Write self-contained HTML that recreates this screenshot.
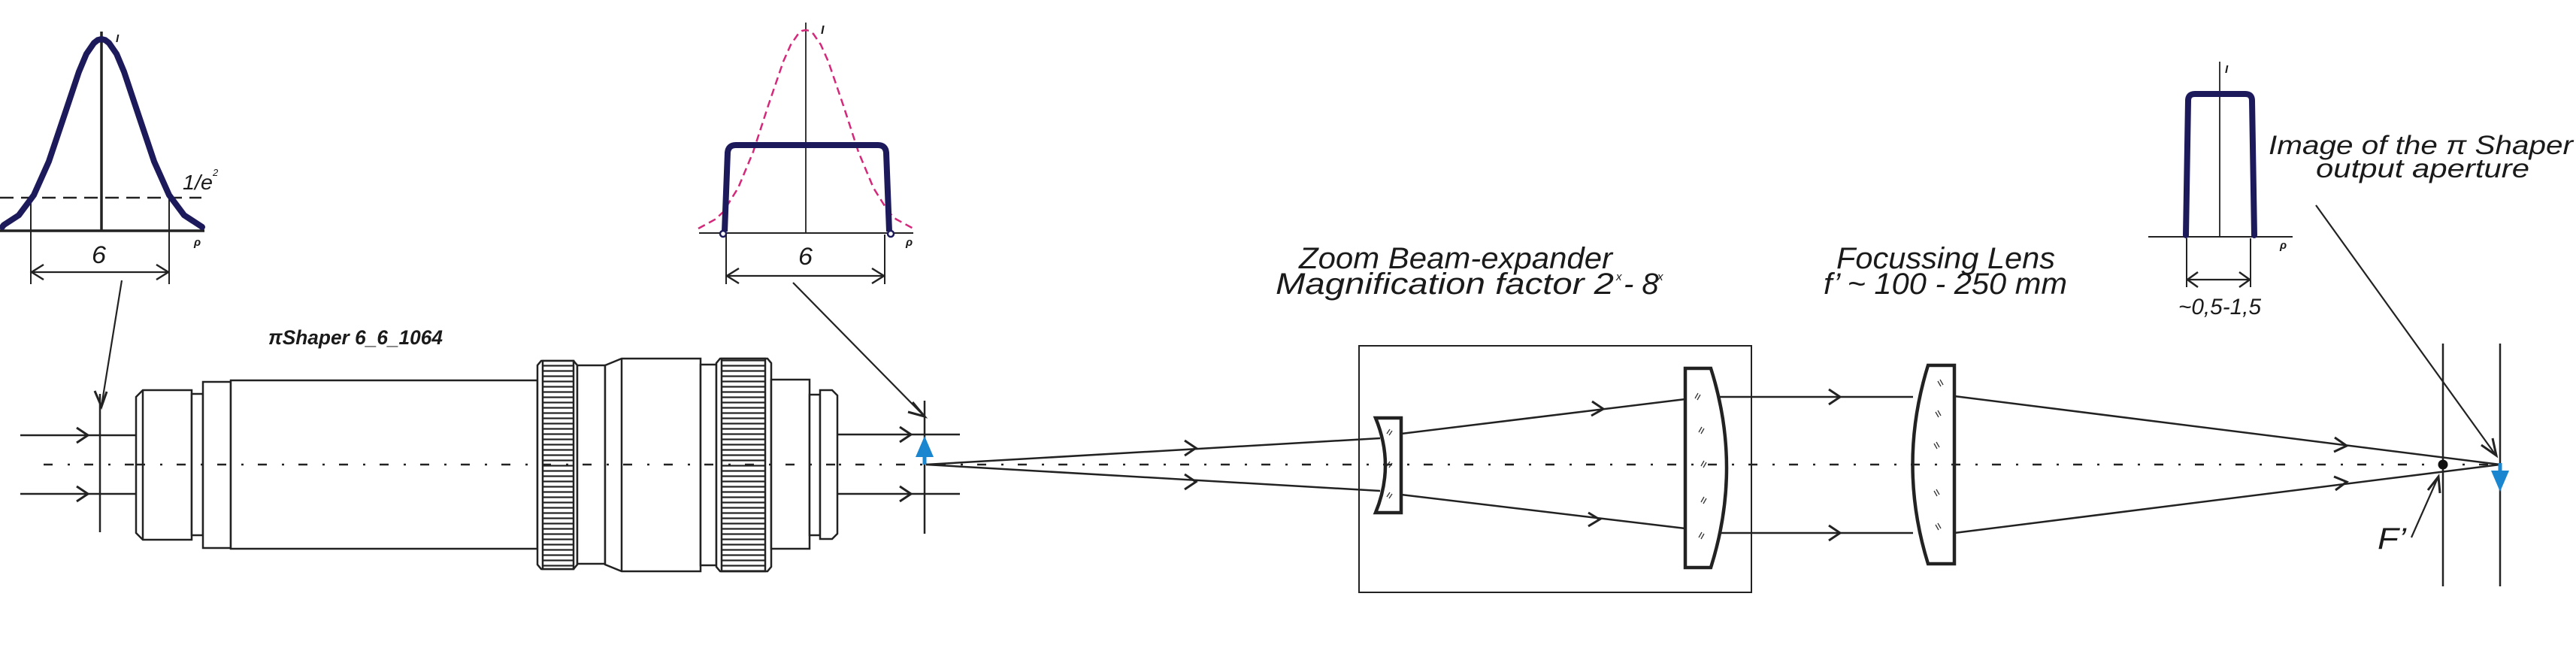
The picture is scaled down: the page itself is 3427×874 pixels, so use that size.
<!DOCTYPE html>
<html><head><meta charset="utf-8"><style>
html,body{margin:0;padding:0;background:#fff;}
svg{display:block;}
text{font-family:"Liberation Sans",sans-serif;font-style:italic;fill:#1a1a1a;}
</style></head><body>
<svg width="3427" height="874" viewBox="0 0 3427 874" xmlns="http://www.w3.org/2000/svg">
<defs>
<pattern id="kn" width="10" height="7" patternUnits="userSpaceOnUse"><rect width="10" height="7" fill="#fff"/><line x1="0" y1="3.5" x2="10" y2="3.5" stroke="#222" stroke-width="2.2"/></pattern>
</defs>

<line x1="58" y1="618" x2="3330" y2="618" stroke="#222" stroke-width="2.5" stroke-dasharray="12,20,3,19"/>

<g stroke="#222" fill="none">
<line x1="135" y1="42" x2="135" y2="307" stroke-width="3.5"/>
<line x1="0" y1="307" x2="272" y2="307" stroke-width="3.5"/>
<line x1="0" y1="263" x2="268" y2="263" stroke-width="2.5" stroke-dasharray="18,10"/>
<line x1="41" y1="263" x2="41" y2="378" stroke-width="2"/>
<line x1="225" y1="263" x2="225" y2="378" stroke-width="2"/>
<line x1="41" y1="362" x2="225" y2="362" stroke-width="2.2"/>
<polyline points="58,352 42,362 58,372" stroke-width="2.5"/>
<polyline points="208,352 224,362 208,372" stroke-width="2.5"/>
</g>
<polyline fill="none" stroke="#1c1a5a" stroke-width="8" stroke-linejoin="round" stroke-linecap="round"
 points="3,302 5,299.3 25,286.3 45,259.5 65,214.7 85,155.2 105,95.4 115,71.6 125,57.2 130,53.3 135,52 140,53.3 145,57.2 155,71.6 165,95.4 185,155.2 205,214.7 225,259.5 245,286.3 265,299.3 269,302"/>
<text x="243" y="252" font-size="28" textLength="40" lengthAdjust="spacingAndGlyphs">1/e</text><text x="283" y="234" font-size="13">2</text>
<text x="122" y="350" font-size="32" textLength="19" lengthAdjust="spacingAndGlyphs">6</text>
<text x="154" y="56" font-size="15" font-weight="bold">I</text>
<text x="258" y="327" font-size="15" font-weight="bold">ρ</text>
<line x1="162" y1="373" x2="135" y2="540" stroke="#222" stroke-width="2.2"/>
<polyline points="126,520 135,541 142,521" fill="none" stroke="#222" stroke-width="3"/>

<g stroke="#222" fill="none" stroke-width="2.5">
<line x1="133" y1="524" x2="133" y2="708"/>
<line x1="27" y1="579" x2="181" y2="579"/>
<line x1="27" y1="657" x2="181" y2="657"/>
<polyline points="102,569 117,579 102,589" stroke-width="3"/>
<polyline points="102,647 117,657 102,667" stroke-width="3"/>
</g>

<g stroke="#222" stroke-width="2.5" fill="#fff">
<path d="M190,519 L255,519 L255,718 L190,718 L181,709 L181,528 Z"/>
<line x1="190" y1="519" x2="190" y2="718"/>
<rect x="255" y="524" width="15" height="188"/>
<rect x="270" y="508" width="37" height="221"/>
<rect x="307" y="506" width="408" height="224"/>
<path d="M720,480 L763,480 L768,486 L768,751 L763,757 L720,757 L715,751 L715,486 Z"/>
<rect x="722" y="480" width="41" height="277" fill="url(#kn)"/>
<rect x="768" y="486" width="37" height="264"/>
<path d="M805,486 L827,477 L932,477 L932,760 L827,760 L805,751 Z"/>
<line x1="827" y1="477" x2="827" y2="760"/>
<rect x="932" y="485" width="21" height="267"/>
<path d="M958,477 L1021,477 L1026,483 L1026,754 L1021,760 L958,760 L953,754 L953,483 Z"/>
<rect x="960" y="477" width="58" height="283" fill="url(#kn)"/>
<rect x="1026" y="505" width="51" height="225"/>
<rect x="1077" y="525" width="14" height="187"/>
<path d="M1091,519 L1107,519 L1114,526 L1114,710 L1107,717 L1091,717 Z"/>
</g>
<line x1="181" y1="618" x2="1114" y2="618" stroke="#222" stroke-width="2.5" stroke-dasharray="12,20,3,19"/>
<text x="357" y="458" font-size="27" font-weight="bold" textLength="232" lengthAdjust="spacingAndGlyphs">πShaper 6_6_1064</text>

<g stroke="#222" fill="none" stroke-width="2.5">
<line x1="1114" y1="578" x2="1277" y2="578"/>
<line x1="1114" y1="657" x2="1277" y2="657"/>
<polyline points="1197,568 1212,578 1197,588" stroke-width="3"/>
<polyline points="1197,647 1212,657 1197,667" stroke-width="3"/>
<line x1="1230" y1="533" x2="1230" y2="710"/>
<line x1="1055" y1="376" x2="1229" y2="553" stroke-width="2.2"/>
<polyline points="1214,535 1230,554 1208,548" stroke-width="3"/>
</g>
<line x1="1230" y1="618" x2="1230" y2="600" stroke="#1a86d0" stroke-width="5"/>
<polygon points="1230,580 1218,608 1242,608" fill="#1a86d0"/>

<g fill="none">
<line x1="1072" y1="30" x2="1072" y2="310" stroke="#222" stroke-width="1.8"/>
<line x1="930" y1="310" x2="1215" y2="310" stroke="#222" stroke-width="2"/>
<polyline stroke="#d4287a" stroke-width="2.5" stroke-dasharray="10,6" stroke-linejoin="round"
 points="929,304 952,291.5 962,282 982,250 1002,202 1022,140.5 1042,82 1052,59.5 1062,45 1067,41 1072,40 1077,41 1082,45 1092,59.5 1102,82 1122,140.5 1142,202 1162,250 1182,282 1192,291.5 1215,304"/>
<path d="M964,308 L968,203 Q969,193 979,193 L1168,193 Q1178,193 1179,203 L1183,308" stroke="#1c1a5a" stroke-width="8" stroke-linejoin="round"/>
<circle cx="962" cy="311" r="4" fill="#fff" stroke="#1c1a5a" stroke-width="2.5"/>
<circle cx="1185" cy="311" r="4" fill="#fff" stroke="#1c1a5a" stroke-width="2.5"/>
<g stroke="#222" stroke-width="2">
<line x1="966" y1="312" x2="966" y2="378"/>
<line x1="1177" y1="312" x2="1177" y2="378"/>
<line x1="966" y1="367" x2="1177" y2="367" stroke-width="2.2"/>
<polyline points="983,357 967,367 983,377" stroke-width="2.5"/>
<polyline points="1160,357 1176,367 1160,377" stroke-width="2.5"/>
</g>
</g>
<text x="1062" y="352" font-size="32" textLength="19" lengthAdjust="spacingAndGlyphs">6</text>
<text x="1092" y="45" font-size="16" font-weight="bold">I</text>
<text x="1205" y="327" font-size="15" font-weight="bold">ρ</text>

<g stroke="#222" fill="none" stroke-width="2.5">
<line x1="1232" y1="618" x2="1836" y2="583"/>
<line x1="1232" y1="618" x2="1836" y2="653"/>
<polyline points="1576,586 1591,596 1576,606" stroke-width="3"/>
<polyline points="1576,631 1591,641 1576,651" stroke-width="3"/>
<rect x="1808" y="460" width="522" height="328" stroke-width="2"/>
<path d="M1830,556 L1864,556 L1864,682 L1830,682 Q1856,619 1830,556 Z" stroke-width="4.5"/>
<line x1="1864" y1="577" x2="2242" y2="531"/>
<line x1="1864" y1="658" x2="2242" y2="703"/>
<polyline points="2118,534 2133,544 2117,553" stroke-width="3"/>
<polyline points="2113,682 2128,691 2113,700" stroke-width="3"/>
<path d="M2242,490 L2276,490 Q2318,622 2276,755 L2242,755 Z" stroke-width="4.5"/>
<line x1="2288" y1="528" x2="2545" y2="528"/>
<line x1="2288" y1="709" x2="2545" y2="709"/>
<polyline points="2433,518 2448,528 2433,538" stroke-width="3"/>
<polyline points="2433,699 2448,709 2433,719" stroke-width="3"/>
<path d="M2565,486 L2600,486 L2600,750 L2565,750 Q2524,618 2565,486 Z" stroke-width="4.5"/>
<line x1="2600" y1="527" x2="3326" y2="618"/>
<line x1="2600" y1="709" x2="3326" y2="618"/>
<polyline points="3106,582 3122,593 3105,601" stroke-width="3"/>
<polyline points="3105,634 3122,641 3107,652" stroke-width="3"/>
<line x1="3250" y1="457" x2="3250" y2="780"/>
<line x1="3326" y1="457" x2="3326" y2="780"/>
<line x1="3208" y1="715" x2="3243" y2="636" stroke-width="2.2"/>
<polyline points="3230,652 3244,634 3246,656" stroke-width="3"/>
<line x1="3081" y1="273" x2="3320" y2="605" stroke-width="2.2"/>
<polyline points="3301,592 3321,606 3316,583" stroke-width="3"/>
</g>
<g stroke="#333" stroke-width="1.3">
<path d="M1845,577 l4,-6 M1848,579 l4,-6 M1845,620 l4,-6 M1848,622 l4,-6 M1845,661 l4,-6 M1848,663 l4,-6"/>
<path d="M2255,530 l4,-7 M2258,532 l4,-7 M2260,575 l4,-7 M2263,577 l4,-7 M2263,620 l4,-7 M2266,622 l4,-7 M2263,668 l4,-7 M2266,670 l4,-7 M2260,715 l4,-7 M2263,717 l4,-7"/>
<path d="M2581,505 l4,7 M2578,507 l4,7 M2575,548 l4,7 M2578,546 l4,7 M2573,590 l4,7 M2576,588 l4,7 M2573,653 l4,7 M2576,651 l4,7 M2575,698 l4,7 M2578,696 l4,7"/>
</g>
<circle cx="3250" cy="618" r="6.5" fill="#111"/>
<line x1="3326" y1="616" x2="3326" y2="630" stroke="#1a86d0" stroke-width="5"/>
<polygon points="3326,654 3314,626 3338,626" fill="#1a86d0"/>
<text x="3163" y="730" font-size="40" textLength="38" lengthAdjust="spacingAndGlyphs">F’</text>

<line x1="2953" y1="82" x2="2953" y2="315" stroke="#222" stroke-width="1.8"/>
<line x1="2858" y1="315" x2="3050" y2="315" stroke="#222" stroke-width="2"/>
<path d="M2908,313 L2911,134 Q2911,125 2920,125 L2987,125 Q2996,125 2996,134 L2999,313" fill="none" stroke="#1c1a5a" stroke-width="8" stroke-linejoin="round" stroke-linecap="round"/>
<g stroke="#222" stroke-width="2" fill="none">
<line x1="2909" y1="317" x2="2909" y2="382"/>
<line x1="2994" y1="317" x2="2994" y2="382"/>
<line x1="2909" y1="372" x2="2994" y2="372" stroke-width="2.2"/>
<polyline points="2924,362 2910,372 2924,382" stroke-width="2.5"/>
<polyline points="2979,362 2993,372 2979,382" stroke-width="2.5"/>
</g>
<text x="2898" y="418" font-size="30" textLength="110" lengthAdjust="spacingAndGlyphs">~0,5-1,5</text>
<text x="2960" y="97" font-size="15" font-weight="bold">I</text>
<text x="3033" y="331" font-size="15" font-weight="bold">ρ</text>

<text x="1728" y="357" font-size="40" textLength="417" lengthAdjust="spacingAndGlyphs">Zoom Beam-expander</text>
<text x="1697" y="391" font-size="40" textLength="450" lengthAdjust="spacingAndGlyphs">Magnification factor  2</text>
<text x="2150" y="373" font-size="15">x</text>
<text x="2160" y="391" font-size="40">- 8</text>
<text x="2205" y="373" font-size="15">x</text>
<text x="2443" y="357" font-size="40" textLength="291" lengthAdjust="spacingAndGlyphs">Focussing Lens</text>
<text x="2426" y="391" font-size="40" textLength="324" lengthAdjust="spacingAndGlyphs">f’ ~ 100 - 250 mm</text>
<text x="3018" y="205" font-size="35" textLength="405" lengthAdjust="spacingAndGlyphs">Image of the π Shaper</text>
<text x="3081" y="236" font-size="35" textLength="284" lengthAdjust="spacingAndGlyphs">output aperture</text>
</svg>
</body></html>
